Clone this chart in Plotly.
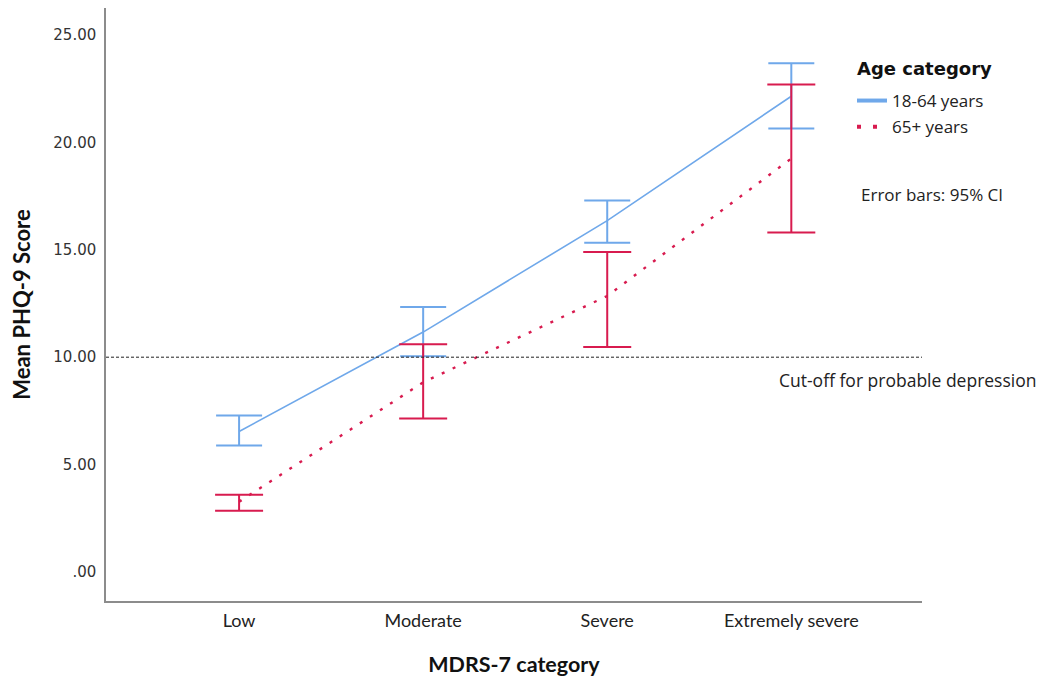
import plotly.graph_objects as go

categories = ["Low", "Moderate", "Severe", "Extremely severe"]

young_mean = [6.54, 11.17, 16.36, 22.15]
young_upper = [7.29, 12.34, 17.29, 23.69]
young_lower = [5.89, 10.05, 15.33, 20.65]

old_mean = [3.27, 8.83, 12.85, 19.25]
old_upper = [3.60, 10.60, 14.90, 22.70]
old_lower = [2.85, 7.15, 10.47, 15.80]

ytick_vals = [0, 5, 10, 15, 20, 25]
ytick_text = [".00", "5.00", "10.00", "15.00", "20.00", "25.00"]

cutoff = 10

BLUE = "#6fa8ea"
RED = "#d81b4f"

# page has an 8px body margin; plot area spans screen x 106..922, y 8..601
PW, PH = 816, 593

fig = go.Figure()

fig.add_trace(go.Scatter(
    x=categories, y=young_mean, mode="lines",
    line=dict(color=BLUE, width=1.6),
    error_y=dict(type="data", symmetric=False,
                 array=[u - m for u, m in zip(young_upper, young_mean)],
                 arrayminus=[m - l for m, l in zip(young_mean, young_lower)],
                 color=BLUE, thickness=2, width=23),
    showlegend=False, hoverinfo="skip"))

fig.add_trace(go.Scatter(
    x=categories, y=old_mean, mode="lines",
    line=dict(color=RED, width=2.4, dash="3px,9px"),
    error_y=dict(type="data", symmetric=False,
                 array=[u - m for u, m in zip(old_upper, old_mean)],
                 arrayminus=[m - l for m, l in zip(old_mean, old_lower)],
                 color=RED, thickness=2, width=24),
    showlegend=False, hoverinfo="skip"))

# legend-only entries
fig.add_trace(go.Scatter(x=[None], y=[None], mode="lines", name="18-64 years",
                         legendgroup="a", line=dict(color=BLUE, width=4)))
fig.add_trace(go.Scatter(x=[None], y=[None], mode="lines", name="65+ years",
                         legendgroup="b", line=dict(color=RED, width=4, dash="4px,12px")))

fig.add_shape(type="line", xref="paper", yref="y", x0=0, x1=1, y0=cutoff, y1=cutoff,
              line=dict(color="#222222", width=1, dash="3px,2px"))

fig.add_annotation(text="<b>Age category</b>", xref="paper", yref="paper",
                   x=(855 - 106) / PW, y=(601 - 68) / PH, xanchor="left", yanchor="middle",
                   showarrow=False, font=dict(family="DejaVu Sans", size=18, color="#111"))
fig.add_annotation(text="Error bars: 95% CI", xref="paper", yref="paper",
                   x=(859 - 106) / PW, y=(601 - 194) / PH, xanchor="left", yanchor="middle",
                   showarrow=False, font=dict(family="Open Sans", size=17, color="#222"))
fig.add_annotation(text="Cut-off for probable depression", xref="paper", yref="paper",
                   x=(777 - 106) / PW, y=(601 - 380) / PH, xanchor="left", yanchor="middle",
                   showarrow=False, font=dict(family="Open Sans", size=17.5, color="#222"))

fig.update_layout(
    width=1040, height=672,
    margin=dict(l=98, r=126, t=0, b=79),
    paper_bgcolor="white", plot_bgcolor="white",
    legend=dict(
        font=dict(family="Open Sans", size=17, color="#222"),
        x=(852 - 106) / PW, xanchor="left", y=(601 - 83) / PH, yanchor="top",
        bgcolor="rgba(0,0,0,0)", tracegroupgap=1,
    ),
)

fig.update_xaxes(
    type="category", range=[-0.723, 3.71], automargin=False,
    showline=True, linecolor="#8c8c8c", linewidth=1.5, mirror=False,
    showgrid=False, zeroline=False, ticks="",
    tickfont=dict(family="Lato", size=18, color="#222"),
    ticklabelstandoff=3,
    title=dict(text="<b>MDRS-7 category</b>", standoff=27,
               font=dict(family="Lato", size=21.5, color="#111")),
)
fig.update_yaxes(
    range=[(572 - 601) / 21.48, (572 - 8) / 21.48], automargin=False,
    tickvals=ytick_vals, ticktext=ytick_text,
    showline=True, linecolor="#8c8c8c", linewidth=1.5,
    showgrid=False, zeroline=False, ticks="",
    tickfont=dict(family="DejaVu Sans", size=15, color="#333"),
    ticklabelstandoff=5,
    title=dict(text="<b>Mean PHQ-9 Score</b>", standoff=18,
               font=dict(family="Lato", size=22, color="#111")),
)

fig.write_html("out.html")
